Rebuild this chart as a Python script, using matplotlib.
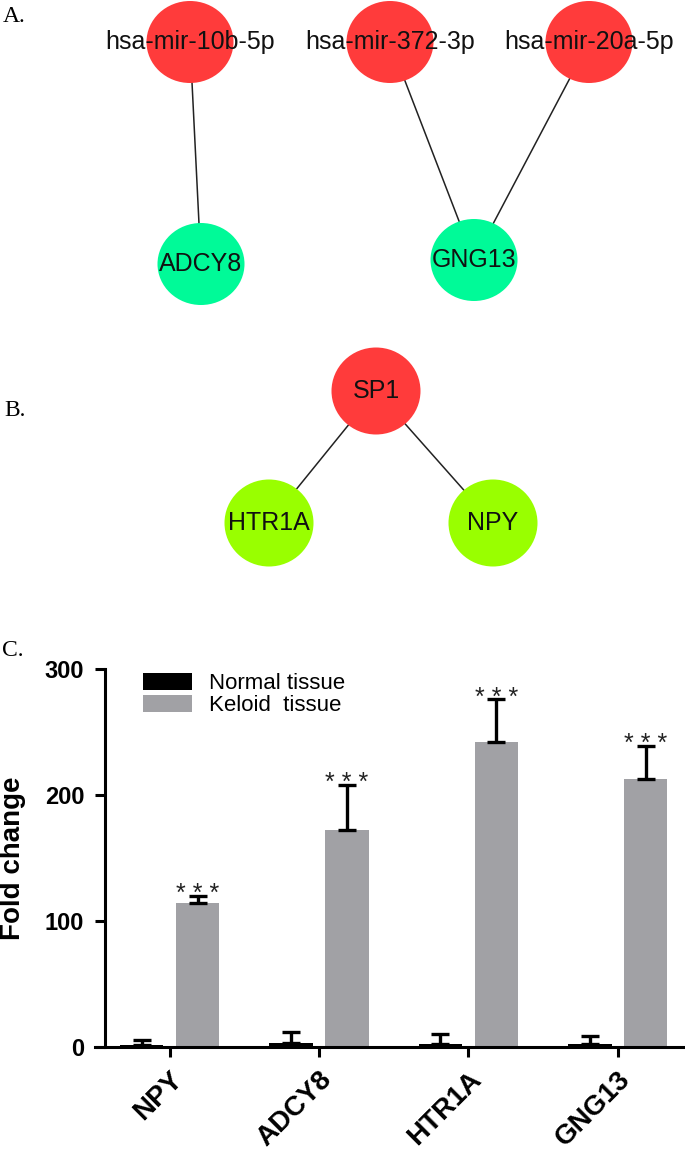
import matplotlib.pyplot as plt
from matplotlib.patches import Ellipse

plt.rcParams['font.family'] = ['Liberation Sans', 'DejaVu Sans']

# A. miRNA - gene network (node centres in image pixels)
a_names = ['hsa-mir-10b-5p', 'hsa-mir-372-3p', 'hsa-mir-20a-5p', 'ADCY8', 'GNG13']
a_x = [190, 390, 589, 201, 474]
a_y = [42, 42, 42, 264, 260]
a_colors = ['#ff3b3b', '#ff3b3b', '#ff3b3b', '#00fa98', '#00fa98']
a_edges = [(0, 3), (1, 4), (2, 4)]

# B. TF - gene network
b_names = ['SP1', 'HTR1A', 'NPY']
b_x = [376, 269, 493]
b_y = [391, 523, 523]
b_colors = ['#ff3b3b', '#99ff00', '#99ff00']
b_edges = [(0, 1), (0, 2)]

# C. qPCR fold change
genes = ['NPY', 'ADCY8', 'HTR1A', 'GNG13']
normal = [1.8, 3.0, 2.7, 2.7]
normal_err = [3.8, 8.5, 7.3, 5.9]
keloid = [114, 172, 242, 213]
keloid_err = [6, 36, 34, 26]

W, H = 685, 1157
fig = plt.figure(figsize=(W / 100, H / 100), dpi=100)

''' networks drawn on a full-figure pixel axes '''
net = fig.add_axes([0, 0, 1, 1])
net.set_xlim(0, W)
net.set_ylim(H, 0)
net.axis('off')


def draw_net(names, xs, ys, colors, edges, nw, nh):
    for i, j in edges:
        net.plot([xs[i], xs[j]], [ys[i], ys[j]], color='#222222', lw=1.1, zorder=1)
    for name, x, y, c in zip(names, xs, ys, colors):
        net.add_patch(Ellipse((x, y), nw, nh, facecolor=c, edgecolor='none', zorder=2))
        net.text(x, y, name, ha='center', va='center', fontsize=18, color='#111111', zorder=3)


draw_net(a_names, a_x, a_y, a_colors, a_edges, 87, 82)
draw_net(b_names, b_x, b_y, b_colors, b_edges, 89, 87)

for lab, x, y in [('A.', 3, 17), ('B.', 4, 410), ('C.', 2, 650)]:
    net.text(x, y, lab, ha='left', va='center', fontsize=17, family='Liberation Serif')

''' bar chart '''
ax = fig.add_axes([95 / W, 0.0951, 590 / W, 0.3267])
ax.patch.set_alpha(0)
ax.spines['top'].set_visible(False)
ax.spines['right'].set_visible(False)
ax.spines['left'].set_position(('data', -0.433))
for s in ('left', 'bottom'):
    ax.spines[s].set_linewidth(2.2)

idx = list(range(len(genes)))
off, bw = 0.187, 0.29
ekw = dict(lw=2.4, capsize=6.5, capthick=2.4, ecolor='black')
b1 = ax.bar([i - off for i in idx], normal, bw, color='black', label='Normal tissue')
ax.errorbar([i - off for i in idx], normal, yerr=[[0] * 4, normal_err], fmt='none', **ekw)
b2 = ax.bar([i + off for i in idx], keloid, bw, color='#a1a1a5', label='Keloid  tissue')
ax.errorbar([i + off for i in idx], keloid, yerr=[[0] * 4, keloid_err], fmt='none', **ekw)

for i in idx:
    ax.annotate('* * *', (i + off, keloid[i] + keloid_err[i]), xytext=(0, -4),
                textcoords='offset points', ha='center', va='baseline',
                fontsize=18, color='#222222')

ax.set_xlim(-0.5, 3.45)
ax.set_ylim(0, 300)
ax.set_yticks([0, 100, 200, 300])
ax.set_yticklabels(['0', '100', '200', '300'], fontsize=17, fontweight='bold')
ax.set_xticks(idx)
ax.set_xticklabels(genes, rotation=45, ha='right', rotation_mode='anchor',
                   fontsize=20, fontweight='bold')
ax.tick_params(axis='y', length=7, width=2.2, pad=8)
ax.tick_params(axis='x', length=7, width=2.2, pad=7)
ax.set_ylabel('Fold change', fontsize=20, fontweight='bold')
ax.yaxis.set_label_coords(-0.117, 0.5)

ax.legend(handles=[b1, b2], loc='upper left', bbox_to_anchor=(0.062, 1.02), frameon=False,
          fontsize=16, handlelength=2.2, handleheight=0.8, handletextpad=0.8,
          labelspacing=0.05, borderpad=0)

fig.savefig('out.png', dpi=100)
